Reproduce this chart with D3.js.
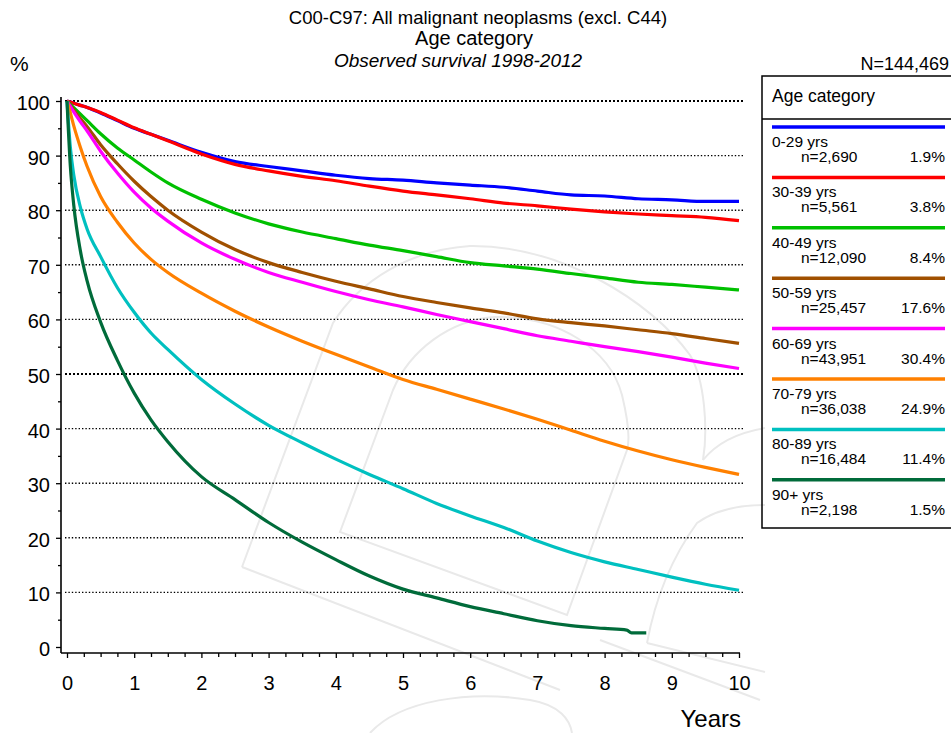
<!DOCTYPE html>
<html><head><meta charset="utf-8">
<script src="https://cdn.jsdelivr.net/npm/d3@7/dist/d3.min.js"></script>
<style>
body{margin:0;background:#fff;}
svg{display:block;font-family:"Liberation Sans",Arial,sans-serif;}
</style>
</head><body>
<svg id="chart" width="951" height="733"></svg>
<script>
// ---------------- data ----------------
const years   = [0,0.05,0.1,0.2,0.3,0.5,0.75,1,1.25,1.5,2,2.5,3,3.5,4,4.5,5,5.5,6,6.5,7,7.5,8,8.5,9,9.5,10];
const years90 = [0,0.05,0.1,0.2,0.3,0.5,0.75,1,1.25,1.5,2,2.5,3,3.5,4,4.5,5,5.5,6,6.5,7,7.5,8,8.33,8.4,8.62];

const surv0_29  = [100,99.8,99.6,99.2,98.8,97.8,96.4,95.0,93.9,92.8,90.6,88.9,88.0,87.2,86.4,85.8,85.5,85.0,84.6,84.2,83.5,82.8,82.6,82.1,81.9,81.6,81.6];
const surv30_39 = [100,99.8,99.6,99.2,98.8,97.9,96.5,95.1,93.9,92.7,90.3,88.4,87.2,86.2,85.4,84.4,83.5,82.8,82.1,81.3,80.8,80.2,79.7,79.3,79.0,78.7,78.1];
const surv40_49 = [100,99.4,98.8,97.6,96.4,94.0,91.4,89.2,87.0,85.0,82.0,79.5,77.5,76.0,74.8,73.6,72.6,71.5,70.4,69.8,69.2,68.4,67.6,66.8,66.4,65.9,65.4];
const surv50_59 = [100,99.2,98.4,96.8,95.3,92.0,88.5,85.3,82.5,80.0,76.0,72.8,70.4,68.6,67.0,65.6,64.2,63.1,62.1,61.2,60.1,59.4,58.8,58.1,57.4,56.5,55.6];
const surv60_69 = [100,99.0,98.0,96.2,94.5,90.8,86.8,83.3,80.4,78.0,74.0,71.0,68.6,66.8,65.1,63.6,62.3,60.9,59.6,58.3,57.0,56.0,55.0,54.1,53.1,52.0,51.0];
const surv70_79 = [100,97.8,95.5,91.5,88.0,82.5,77.8,74.0,71.0,68.6,64.8,61.5,58.6,56.0,53.6,51.3,49.0,47.2,45.4,43.6,41.7,39.7,37.7,35.9,34.3,32.9,31.6];
const surv80_89 = [100,91.5,86.5,80.5,76.5,71.5,65.8,61.3,57.5,54.5,49.0,44.5,40.6,37.4,34.4,31.6,29.0,26.3,24.0,21.9,19.4,17.3,15.6,14.2,12.8,11.5,10.4];
const surv90    = [100,88.0,81.0,72.5,67.0,59.5,52.5,46.5,41.6,37.6,31.2,27.0,22.8,19.2,16.0,13.0,10.6,9.0,7.4,6.1,4.8,3.9,3.4,3.1,2.6,2.6];

const categories = ["0-29 yrs","30-39 yrs","40-49 yrs","50-59 yrs","60-69 yrs","70-79 yrs","80-89 yrs","90+ yrs"];
const counts     = ["n=2,690","n=5,561","n=12,090","n=25,457","n=43,951","n=36,038","n=16,484","n=2,198"];
const shares     = ["1.9%","3.8%","8.4%","17.6%","30.4%","24.9%","11.4%","1.5%"];
const colors     = ["#0000ff","#ff0000","#00c000","#a05000","#ff00ff","#ff8000","#00c0c0","#006b3a"];

const yTicks      = [0,10,20,30,40,50,60,70,80,90,100];
const yMinorTicks = [5,15,25,35,45,55,65,75,85,95];
const xTicks      = [0,1,2,3,4,5,6,7,8,9,10];
const xMinorTicks = d3.range(0,40).map(i=>i/4).filter(v=>v%1!==0);

const seriesList = [
  {t: years, v: surv0_29},
  {t: years, v: surv30_39},
  {t: years, v: surv40_49},
  {t: years, v: surv50_59},
  {t: years, v: surv60_69},
  {t: years, v: surv70_79},
  {t: years, v: surv80_89},
  {t: years90, v: surv90}
];

// ---------------- drawing ----------------
const svg = d3.select("#chart");
const x = d3.scaleLinear().domain([0,10]).range([67,739]);
const y = d3.scaleLinear().domain([0,100]).range([647,101]);

// faint watermark
const wm = svg.append("g").attr("fill","none").attr("stroke","#e9e9e9").attr("stroke-width",2);
wm.append("path").attr("d","M242,567 L333,323 C360,280 410,250 470,246 C560,245 650,300 690,355 C705,380 708,430 703,460");
wm.append("path").attr("d","M242,567 L560,690");
wm.append("path").attr("d","M340,532 L393,390 C410,350 450,320 495,317 C560,316 610,350 622,395 C628,420 630,440 627,450 L567,615 Z");
wm.append("path").attr("d","M703,460 C715,445 735,433 765,428");
wm.append("path").attr("d","M647,643 C655,600 670,560 697,523 C715,510 740,505 765,505");
wm.append("path").attr("d","M647,643 L765,672");
wm.append("path").attr("d","M370,733 C400,700 470,690 530,700 C560,705 570,720 572,733");
wm.append("path").attr("d","M600,640 L760,700");

// gridlines
svg.append("g").selectAll("line").data(yTicks.filter(d=>d>0)).join("line")
  .attr("x1",65).attr("x2",743)
  .attr("y1",d=>y(d)).attr("y2",d=>y(d))
  .attr("stroke","#000")
  .attr("stroke-width",d=>(d===50||d===100)?2:1.4)
  .attr("stroke-dasharray",d=>(d===50||d===100)?"2,2":"1.4,2");

// axes
const yAxis = svg.append("g").attr("transform","translate(61,0)")
  .call(d3.axisLeft(y).tickValues(yTicks).tickSize(5).tickPadding(6));
yAxis.select(".domain").remove();
yAxis.selectAll("text").attr("font-size",20).attr("font-family","Liberation Sans, Arial, sans-serif").attr("fill","#000").attr("dy","0.42em");
yAxis.selectAll("line").attr("stroke","#000").attr("stroke-width",1.3);
const yMinor = svg.append("g").attr("transform","translate(61,0)")
  .call(d3.axisLeft(y).tickValues(yMinorTicks).tickSize(3).tickFormat(""));
yMinor.select(".domain").remove();
yMinor.selectAll("line").attr("stroke","#000").attr("stroke-width",1.3);

const xAxis = svg.append("g").attr("transform","translate(0,653)")
  .call(d3.axisBottom(x).tickValues(xTicks).tickSize(5).tickPadding(18));
xAxis.select(".domain").remove();
xAxis.selectAll("text").attr("font-size",20).attr("font-family","Liberation Sans, Arial, sans-serif").attr("fill","#000");
xAxis.selectAll("line").attr("stroke","#000").attr("stroke-width",1.3);
const xMinor = svg.append("g").attr("transform","translate(0,653)")
  .call(d3.axisBottom(x).tickValues(xMinorTicks).tickSize(4).tickFormat(""));
xMinor.select(".domain").remove();
xMinor.selectAll("line").attr("stroke","#000").attr("stroke-width",1.3);

// axis lines
svg.append("line").attr("x1",61).attr("x2",61).attr("y1",97).attr("y2",653).attr("stroke","#000").attr("stroke-width",1.6);
svg.append("line").attr("x1",61).attr("x2",740).attr("y1",653).attr("y2",653).attr("stroke","#000").attr("stroke-width",1.6);

// curves
const line = d3.line().x(d=>x(d[0])).y(d=>y(d[1])).curve(d3.curveMonotoneX);
svg.append("g").selectAll("path").data(seriesList).join("path")
  .attr("d",s=>line(s.t.map((t,i)=>[t,s.v[i]])))
  .attr("fill","none")
  .attr("stroke",(s,i)=>colors[i])
  .attr("stroke-width",3.2)
  .attr("stroke-linejoin","round");

// titles
svg.append("text").attr("x",478).attr("y",24).attr("text-anchor","middle").attr("font-size",18.5).text("C00-C97: All malignant neoplasms (excl. C44)");
svg.append("text").attr("x",474).attr("y",45).attr("text-anchor","middle").attr("font-size",20).text("Age category");
svg.append("text").attr("x",458).attr("y",67).attr("text-anchor","middle").attr("font-size",19).attr("font-style","italic").text("Observed survival 1998-2012");
svg.append("text").attr("x",10).attr("y",71).attr("font-size",21).text("%");
svg.append("text").attr("x",949).attr("y",70).attr("text-anchor","end").attr("font-size",18).text("N=144,469");
svg.append("text").attr("x",741).attr("y",727).attr("text-anchor","end").attr("font-size",24).text("Years");

// legend
const lg = svg.append("g");
lg.append("rect").attr("x",762).attr("y",76).attr("width",200).attr("height",452).attr("fill","none").attr("stroke","#000").attr("stroke-width",1.5);
lg.append("line").attr("x1",762).attr("x2",951).attr("y1",119).attr("y2",119).attr("stroke","#000").attr("stroke-width",1.5);
lg.append("text").attr("x",772).attr("y",102).attr("font-size",17.5).text("Age category");
const items = lg.selectAll("g.item").data(categories).join("g").attr("class","item")
  .attr("transform",(d,i)=>`translate(0,${127 + i*50.4})`);
items.append("line").attr("x1",772).attr("x2",945).attr("y1",0).attr("y2",0)
  .attr("stroke",(d,i)=>colors[i]).attr("stroke-width",3.5);
items.append("text").attr("x",772).attr("y",20).attr("font-size",15.5).text(d=>d);
items.append("text").attr("x",801).attr("y",35).attr("font-size",15.5).text((d,i)=>counts[i]);
items.append("text").attr("x",945).attr("y",35).attr("text-anchor","end").attr("font-size",15.5).text((d,i)=>shares[i]);
</script>
</body></html>
